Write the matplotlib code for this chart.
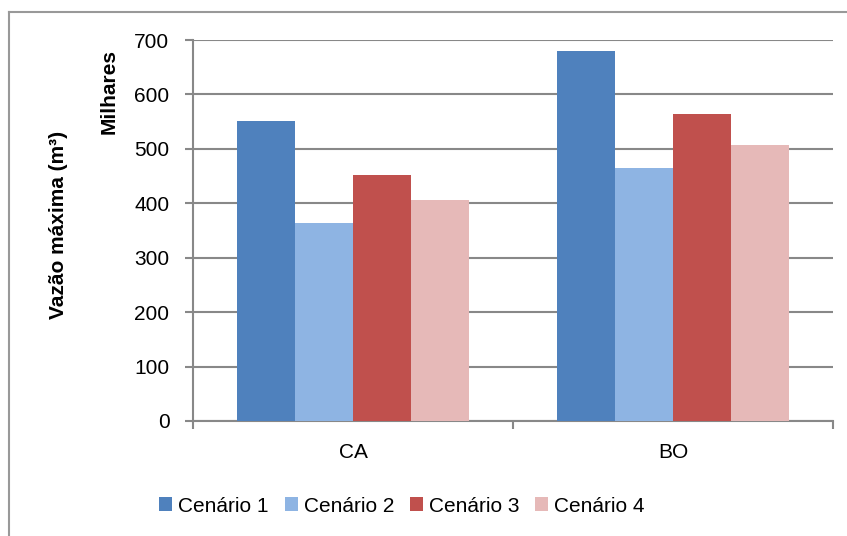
import matplotlib
matplotlib.use("Agg")
import matplotlib.pyplot as plt
import numpy as np
from matplotlib.lines import Line2D
from matplotlib.patches import Patch

categories = ["CA", "BO"]
series_names = ["Cenário 1", "Cenário 2", "Cenário 3", "Cenário 4"]
values = {
    "Cenário 1": [551, 680],
    "Cenário 2": [364, 465],
    "Cenário 3": [452, 564],
    "Cenário 4": [406, 507],
}
colors = ["#4F81BD", "#8EB4E3", "#C0504D", "#E6B9B8"]
yticks = [0, 100, 200, 300, 400, 500, 600, 700]

FONT = ["Liberation Sans Narrow", "Liberation Sans", "DejaVu Sans"]
plt.rcParams["font.family"] = FONT
FS = 15

W, H = 847, 536
fig = plt.figure(figsize=(W / 100, H / 100), dpi=100)
ax = fig.add_axes([193 / W, 1 - 421 / H, (833 - 193) / W, (421 - 40) / H])

x = np.arange(len(categories))
bw = 1 / 5.5
for i, name in enumerate(series_names):
    ax.bar(x + (i - 1.5) * bw, values[name], width=bw, color=colors[i],
           zorder=3, linewidth=0)

ax.set_xlim(-0.5, len(categories) - 0.5)
ax.set_ylim(0, 700)
ax.set_yticks(yticks)
ax.set_yticklabels([str(v) for v in yticks], fontsize=FS)
ax.grid(axis="y", color="#888888", linewidth=1.5, zorder=1)
ax.set_xticks(x)
ax.set_xticklabels(categories, fontsize=FS)
ax.tick_params(axis="x", length=0, pad=16)
ax.set_xticks([-0.5, 0.5, 1.5], minor=True)
ax.tick_params(axis="x", which="minor", length=6, color="#888888", width=1.5)
ax.tick_params(axis="y", length=6, color="#888888", width=1.5, pad=11)

for s in ["top", "right"]:
    ax.spines[s].set_visible(False)
for s in ["left", "bottom"]:
    ax.spines[s].set_color("#888888")
    ax.spines[s].set_linewidth(1.5)

fig.text(58 / W, 1 - 225 / H, "Vazão máxima (m³)", rotation=90, fontsize=FS,
         fontweight="bold", ha="center", va="center")
fig.text(109 / W, 1 - 91 / H, "Milhares", rotation=90, fontsize=FS,
         fontweight="bold", ha="center", va="center")

handles = [Patch(facecolor=c, edgecolor="none") for c in colors]
fig.legend(handles, series_names, loc="center", bbox_to_anchor=(402 / W, 1 - 506 / H),
           ncol=4, frameon=False, fontsize=FS, handlelength=0.62, handleheight=0.62,
           handletextpad=0.3, columnspacing=0.75, borderpad=0, borderaxespad=0)

# outer chart border
fig.add_artist(Line2D([9 / W, 9 / W], [0, 1 - 12 / H], color="#999999", linewidth=1.5))
fig.add_artist(Line2D([9 / W, 1], [1 - 12 / H, 1 - 12 / H], color="#999999", linewidth=1.5))

fig.savefig("out.png", dpi=100)
